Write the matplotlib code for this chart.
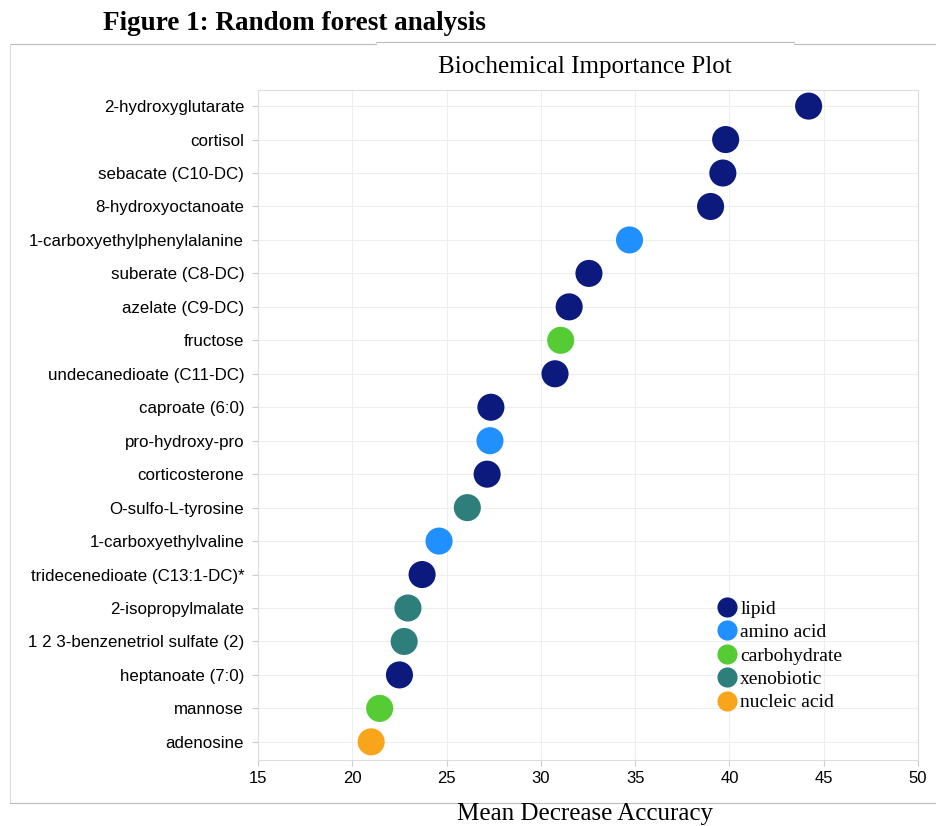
import matplotlib.pyplot as plt
from matplotlib.lines import Line2D

# Datos del grafico (de arriba hacia abajo)
metabolitos = [
    "2-hydroxyglutarate", "cortisol", "sebacate (C10-DC)", "8-hydroxyoctanoate",
    "1-carboxyethylphenylalanine", "suberate (C8-DC)", "azelate (C9-DC)", "fructose",
    "undecanedioate (C11-DC)", "caproate (6:0)", "pro-hydroxy-pro", "corticosterone",
    "O-sulfo-L-tyrosine", "1-carboxyethylvaline", "tridecenedioate (C13:1-DC)*",
    "2-isopropylmalate", "1 2 3-benzenetriol sulfate (2)", "heptanoate (7:0)",
    "mannose", "adenosine",
]
mean_decrease = [
    44.2, 39.8, 39.65, 39.0, 34.7, 32.55, 31.5, 31.05, 30.75, 27.35,
    27.3, 27.15, 26.1, 24.6, 23.7, 22.95, 22.75, 22.5, 21.45, 21.0,
]
clases = [
    "lipid", "lipid", "lipid", "lipid", "amino acid", "lipid", "lipid", "carbohydrate",
    "lipid", "lipid", "amino acid", "lipid", "xenobiotic", "amino acid", "lipid",
    "xenobiotic", "xenobiotic", "lipid", "carbohydrate", "nucleic acid",
]
nombres_clase = ["lipid", "amino acid", "carbohydrate", "xenobiotic", "nucleic acid"]
colores_clase = ["#0b1a7c", "#2090ff", "#55cc33", "#2e7e7c", "#f8a51c"]

color_de = dict(zip(nombres_clase, colores_clase))

fig = plt.figure(figsize=(9.4, 8.26), dpi=100)
ax = fig.add_axes([0.2745, 0.080, 0.7021, 0.811])

posiciones = list(range(len(metabolitos)))
ax.scatter(mean_decrease, posiciones, s=380,
           c=[color_de[c] for c in clases], zorder=3, linewidths=0)

ax.set_xlim(15, 50)
ax.set_ylim(len(metabolitos) - 0.46, -0.48)
ax.set_xticks([15, 20, 25, 30, 35, 40, 45, 50])
ax.set_yticks(posiciones)
ax.set_yticklabels(metabolitos, fontsize=12.2, family="Liberation Sans")
for lbl in ax.get_xticklabels():
    lbl.set_fontsize(12)
    lbl.set_family("Liberation Sans")
ax.tick_params(axis="both", colors="#cccccc", labelcolor="black", length=4, width=0.8)
ax.tick_params(axis="y", pad=6)
ax.tick_params(axis="x", pad=4)
ax.grid(True, color="#eeeeee", linewidth=0.8, zorder=0)
for s in ax.spines.values():
    s.set_color("#dddddd")

# Titulos
fig.text(0.11, 0.972, "Figure 1: Random forest analysis", fontsize=19.5, fontweight="bold",
         family="Liberation Serif", va="center", ha="left")
fig.text(0.622, 0.919, "Biochemical Importance Plot", fontsize=18,
         family="Liberation Serif", va="center", ha="center")
fig.text(0.622, 0.014, "Mean Decrease Accuracy", fontsize=18,
         family="Liberation Serif", va="center", ha="center")

# Marco de la figura
gris = "#bbbbbb"
fig.add_artist(Line2D([0.011, 0.40], [0.947, 0.947], color=gris, lw=0.8))
fig.add_artist(Line2D([0.40, 0.845], [0.949, 0.949], color=gris, lw=0.8))
fig.add_artist(Line2D([0.845, 0.995], [0.947, 0.947], color=gris, lw=0.8))
fig.add_artist(Line2D([0.011, 0.011], [0.028, 0.947], color="#dddddd", lw=0.8))
fig.add_artist(Line2D([0.011, 0.995], [0.028, 0.028], color=gris, lw=0.8))

# Leyenda
manejadores = [Line2D([0], [0], marker="o", linestyle="none", markersize=14.5,
                      markerfacecolor=col, markeredgewidth=0)
               for col in colores_clase]
ax.legend(manejadores, nombres_clase, loc="upper left", bbox_to_anchor=(0.66, 0.259),
          frameon=False, handletextpad=-0.3, labelspacing=0.3, borderpad=0.2,
          prop={"family": "Liberation Serif", "size": 14})

fig.savefig("out.png", dpi=100)
